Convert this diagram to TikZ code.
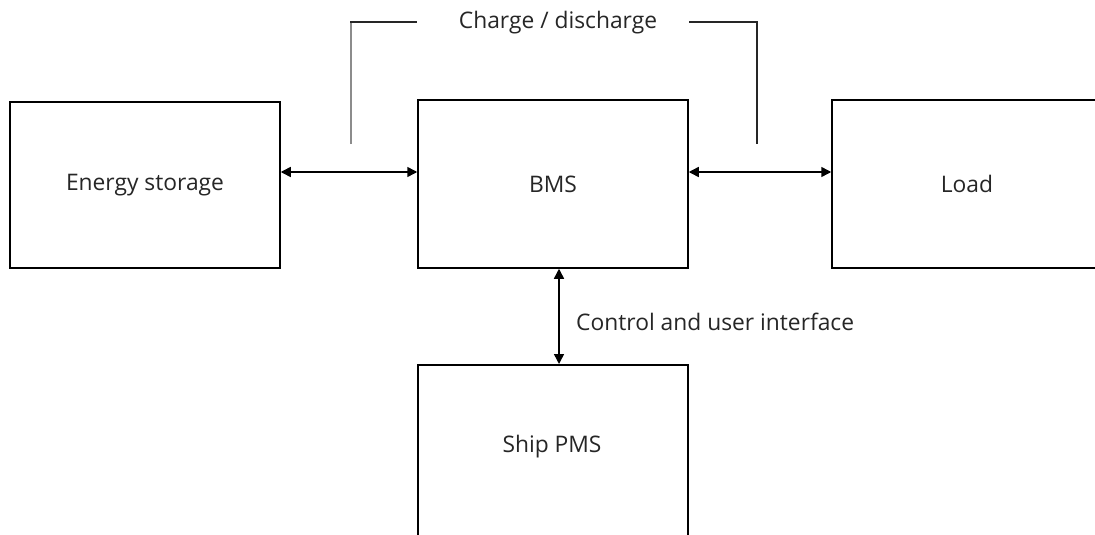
\documentclass[tikz,border=0pt]{standalone}
\usepackage{fontspec}
\setmainfont{Open Sans}
\usetikzlibrary{arrows.meta}
\tikzset{
  blk/.style={draw=black, line width=1.5pt, minimum width=270pt, inner sep=0pt, font=\fontsize{22.8}{26}\selectfont, text=black!85},
  lbl/.style={font=\fontsize{22.8}{26}\selectfont, text=black!85, inner sep=0pt},
  dbl/.style={line width=1.5pt, {Triangle[length=10pt,width=10pt]}-{Triangle[length=10pt,width=10pt]}},
  brk/.style={line width=1.5pt, black!85}
}
\begin{document}
\begin{tikzpicture}[x=1pt,y=-1pt]
\clip (0,0) rectangle (1095,535);
\fill[white] (0,0) rectangle (1095,535);
\node[blk, minimum height=166pt] (es) at (145,185) {Energy storage};
\node[blk, minimum height=168pt] (bms) at (553,184) {BMS};
\node[blk, minimum height=168pt] (load) at (967,184) {Load};
\node[blk, minimum height=200pt, anchor=north] (pms) at (553,364) {};
\node[lbl] (pmstext) at (552,447) {Ship PMS};
\draw[dbl] (es.east |- 0,172) -- (bms.west |- 0,172);
\draw[dbl] (bms.east |- 0,172) -- (load.west |- 0,172);
\draw[dbl] (bms.south -| 559,0) -- (pms.north -| 559,0);
\node[lbl, anchor=west] (ctl) at (576,322) {Control and user interface};
\node[lbl] (cd) at (558,23) {Charge / discharge};
\coordinate (l1) at (351,144);
\coordinate (l2) at (351,22);
\coordinate (l3) at (417,22);
\coordinate (r1) at (689,22);
\coordinate (r2) at (757,22);
\coordinate (r3) at (757,144);
\draw[line width=1.5pt, black!45] (l1) -- (l2);
\draw[brk] ([xshift=-0.75pt]l2) -- (l3);
\draw[brk] (r1) -- (r2) -- (r3);
\end{tikzpicture}
\end{document}
